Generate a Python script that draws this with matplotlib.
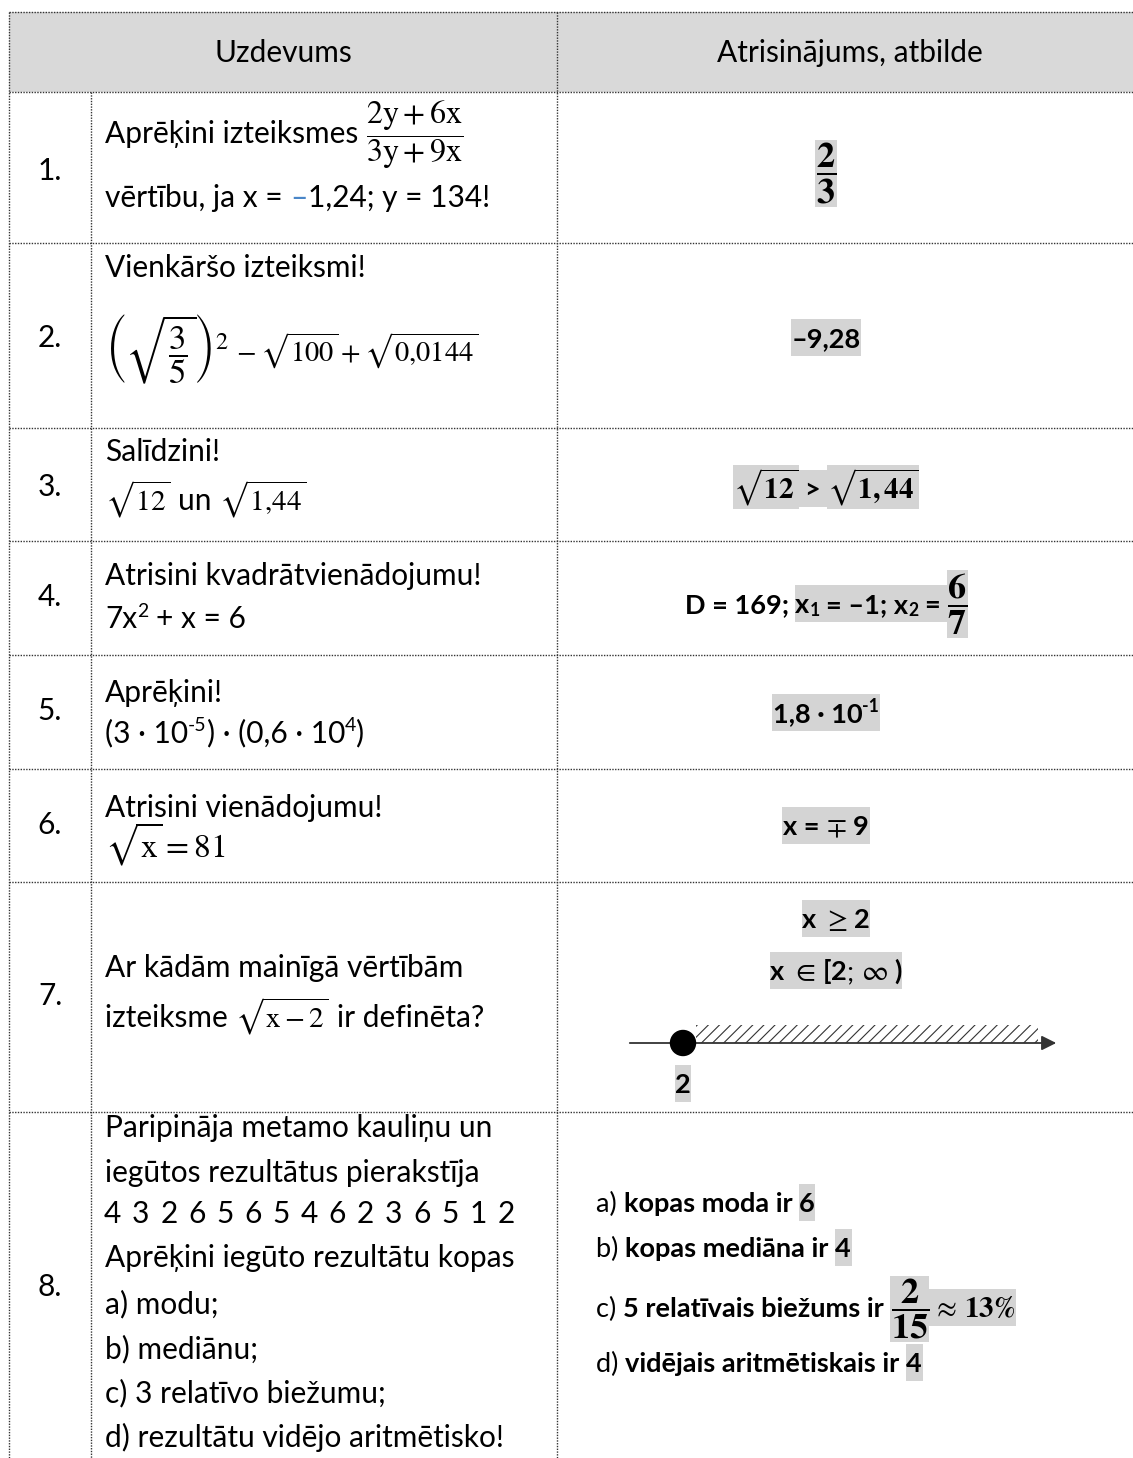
import matplotlib.pyplot as plt
from matplotlib.patches import Rectangle, Circle

plt.rcParams['font.family'] = ['Lato', 'DejaVu Sans']
plt.rcParams['mathtext.fontset'] = 'stix'
plt.rcParams['hatch.linewidth'] = 0.8

# table content
headers = ['Uzdevums', 'Atrisinājums, atbilde']
row_labels = ['1.', '2.', '3.', '4.', '5.', '6.', '7.', '8.']
dice = [4, 3, 2, 6, 5, 6, 5, 4, 6, 2, 3, 6, 5, 1, 2]
domain_start = 2

# style flags: b bold, h highlight, ^ sup, _ sub, c blue, m math
# optional third item = font size of that piece
tasks = [
    [[('Aprēķini izteiksmes ', ''), (r'$\dfrac{\mathrm{2y+6x}}{\mathrm{3y+9x}}$', 'm', 23)],
     [('vērtību, ja x = ', ''), ('–', 'c'), ('1,24; y = 134!', '')]],
    [[('Vienkāršo izteiksmi!', '')],
     [(r'$\left(\sqrt{\dfrac{3}{5}}\right)^2$', 'm', 25),
      (r'$\,-\sqrt{100} + \sqrt{0{,}0144}$', 'm', 20.5)]],
    [[('Salīdzini!', '')],
     [(r'$\sqrt{12}$', 'm'), (' un ', ''), (r'$\sqrt{1{,}44}$', 'm')]],
    [[('Atrisini kvadrātvienādojumu!', '')],
     [('7x', ''), ('2', '^'), (' + x = 6', '')]],
    [[('Aprēķini!', '')],
     [('(3 · 10', ''), ('-5', '^'), (') · (0,6 · 10', ''), ('4', '^'), (')', '')]],
    [[('Atrisini vienādojumu!', '')],
     [(r'$\sqrt{\mathrm{x}} = 81$', 'm', 24)]],
    [[('Ar kādām mainīgā vērtībām', '')],
     [('izteiksme ', ''), (r'$\sqrt{\mathrm{x}-2}$', 'm'), (' ir definēta?', '')]],
    [[('Paripināja metamo kauliņu un', '')],
     [('iegūtos rezultātus pierakstīja', '')],
     [],
     [('Aprēķini iegūto rezultātu kopas', '')],
     [('a) modu;', '')],
     [('b) mediānu;', '')],
     [('c) 3 relatīvo biežumu;', '')],
     [('d) rezultātu vidējo aritmētisko!', '')]],
]

answers = [
    [[(r'$\dfrac{\mathbf{2}}{\mathbf{3}}$', 'mh', 26)]],
    [[('–9,28', 'bh')]],
    [[(r'$\sqrt{\mathbf{12}}$', 'mh'), (' > ', 'bh'), (r'$\sqrt{\mathbf{1,44}}$', 'mh')]],
    [[('D = 169; ', 'b'), ('x', 'bh'), ('1', 'bh_'), (' = –1; x', 'bh'), ('2', 'bh_'),
      (' = ', 'bh'), (r'$\dfrac{\mathbf{6}}{\mathbf{7}}$', 'mh', 26)]],
    [[('1,8 · 10', 'bh'), ('-1', 'bh^')]],
    [[('x = ', 'bh'), (r'$\mp$', 'mh'), (' 9', 'bh')]],
    [[('x ', 'bh'), (r'$\geq$', 'mh'), (' 2', 'bh')],
     [('x ', 'bh'), (r'$\in$', 'mh'), (' [', 'bh'), ('2', 'bh'), ('; ', 'h'),
      (r'$\infty$', 'mh'), (' )', 'bh')]],
    [[('a) ', ''), ('kopas moda ir ', 'b'), ('6', 'bh')],
     [('b) ', ''), ('kopas mediāna ir ', 'b'), ('4', 'bh')],
     [('c) ', ''), ('5 relatīvais biežums ir ', 'b'),
      (r'$\dfrac{\mathbf{2}}{\mathbf{15}}$', 'mh', 26), (r'$\,\approx\,\mathbf{13\%}$', 'mh', 21)],
     [('d) ', ''), ('vidējais aritmētiskais ir ', 'b'), ('4', 'bh')]],
]

# layout (pixels)
W, H = 1133, 1458
row_edges = [92, 243, 428, 541, 655, 769, 882, 1112, 1470]
label_y = [171, 338, 487, 597, 711, 825, 996, 1287]
task_base = [[143, 207], [277, 362], [461, 510], [585, 628], [702, 742], [817, 857],
             [977, 1027], [1137, 1182, 1223, 1267, 1313, 1358, 1402, 1447]]
ans_base = [[181], [347], [498], [613], [722], [835], [928, 980], [1212, 1257, 1317, 1372]]
FS = 21.5   # body text
AFS = 19.5  # answers
MS = 21     # math
HL = '#d4d4d4'
BLUE = '#4a86c8'

fig = plt.figure(figsize=(W / 100, H / 100), dpi=100)
ax = fig.add_axes([0, 0, 1, 1])
ax.set_xlim(0, W)
ax.set_ylim(H, 0)
ax.axis('off')
R = fig.canvas.get_renderer()


def measure(s, **kw):
    t = ax.text(0, 0, s, **kw)
    w = t.get_window_extent(R).width
    t.remove()
    return w


def run(parts, y, x=None, cx=None, size=FS):
    em = size * 100 / 72
    items = []
    pos = 0.0
    for part in parts:
        s, st = part[0], part[1]
        small = '^' in st or '_' in st
        if len(part) > 2:
            fs = part[2]
        elif 'm' in st:
            fs = MS
        else:
            fs = size * (0.65 if small else 1)
        dy = -0.38 * em if '^' in st else (0.12 * em if '_' in st else 0)
        kw = dict(fontsize=fs, weight='bold' if 'b' in st else 'normal')
        if 'm' in st:
            adv = measure(s, **kw)
            lead = 0
            core = s
        else:
            bars = measure('||', **kw)
            adv = measure('|' + s + '|', **kw) - bars
            core = s.lstrip(' ')
            n = len(s) - len(core)
            lead = measure('|' + ' ' * n + '|', **kw) - bars if n else 0
        t = ax.text(0, y + dy, core, va='baseline', ha='left', zorder=3,
                    color=BLUE if 'c' in st else 'black', **kw)
        items.append((t, pos, lead, adv, st))
        pos += adv
    x0 = x if x is not None else cx - pos / 2
    for t, p, lead, adv, st in items:
        t.set_x(x0 + p + lead)
        if 'h' in st:
            bb = t.get_window_extent(R)
            top = min(y - 1.05 * em, H - bb.y1 - 1)
            bot = max(y + 0.32 * em, H - bb.y0 + 1)
            ax.add_patch(Rectangle((x0 + p - 0.5, top), adv + 1, bot - top,
                                   color=HL, lw=0, zorder=2))


# header
ax.add_patch(Rectangle((9, 12), W, 80, color='#d9d9d9', lw=0))
ax.text(283, 53, headers[0], fontsize=FS, ha='center', va='center')
ax.text(850, 53, headers[1], fontsize=FS, ha='center', va='center')

# grid
dot = dict(color='#333333', lw=1, ls=(0, (1, 1)))
for y in [12] + row_edges[:-1]:
    ax.plot([9, W], [y, y], **dot)
ax.plot([9, 9], [12, H], **dot)
ax.plot([91, 91], [92, H], **dot)
ax.plot([557, 557], [12, H], **dot)

for lab, y in zip(row_labels, label_y):
    ax.text(50, y, lab, fontsize=FS, ha='center', va='center')

for lines, ys in zip(tasks, task_base):
    for parts, y in zip(lines, ys):
        run(parts, y, x=105)

# dice results, evenly spaced
for i, d in enumerate(dice):
    ax.text(104 + i * 28.1, task_base[7][2], str(d), fontsize=FS, ha='left', va='baseline')

for i, (lines, ys) in enumerate(zip(answers, ans_base)):
    for parts, y in zip(lines, ys):
        if i == 7:
            run(parts, y, x=596, size=AFS)
        else:
            run(parts, y, cx=836 if i == 6 else 826, size=AFS)

# number line for task 7
ax.annotate('', xy=(1059, 1043), xytext=(627, 1043),
            arrowprops=dict(arrowstyle='-|>', color='#333333', lw=1.3, mutation_scale=22))
ax.add_patch(Rectangle((696, 1025), 342, 18, fill=False, hatch='///',
                       edgecolor='#333333', lw=0, zorder=3))
ax.add_patch(Circle((683, 1043), 12.5, color='black', zorder=4))
run([(str(domain_start), 'bh')], 1093, cx=683, size=AFS)

fig.savefig('out.png', dpi=100)
